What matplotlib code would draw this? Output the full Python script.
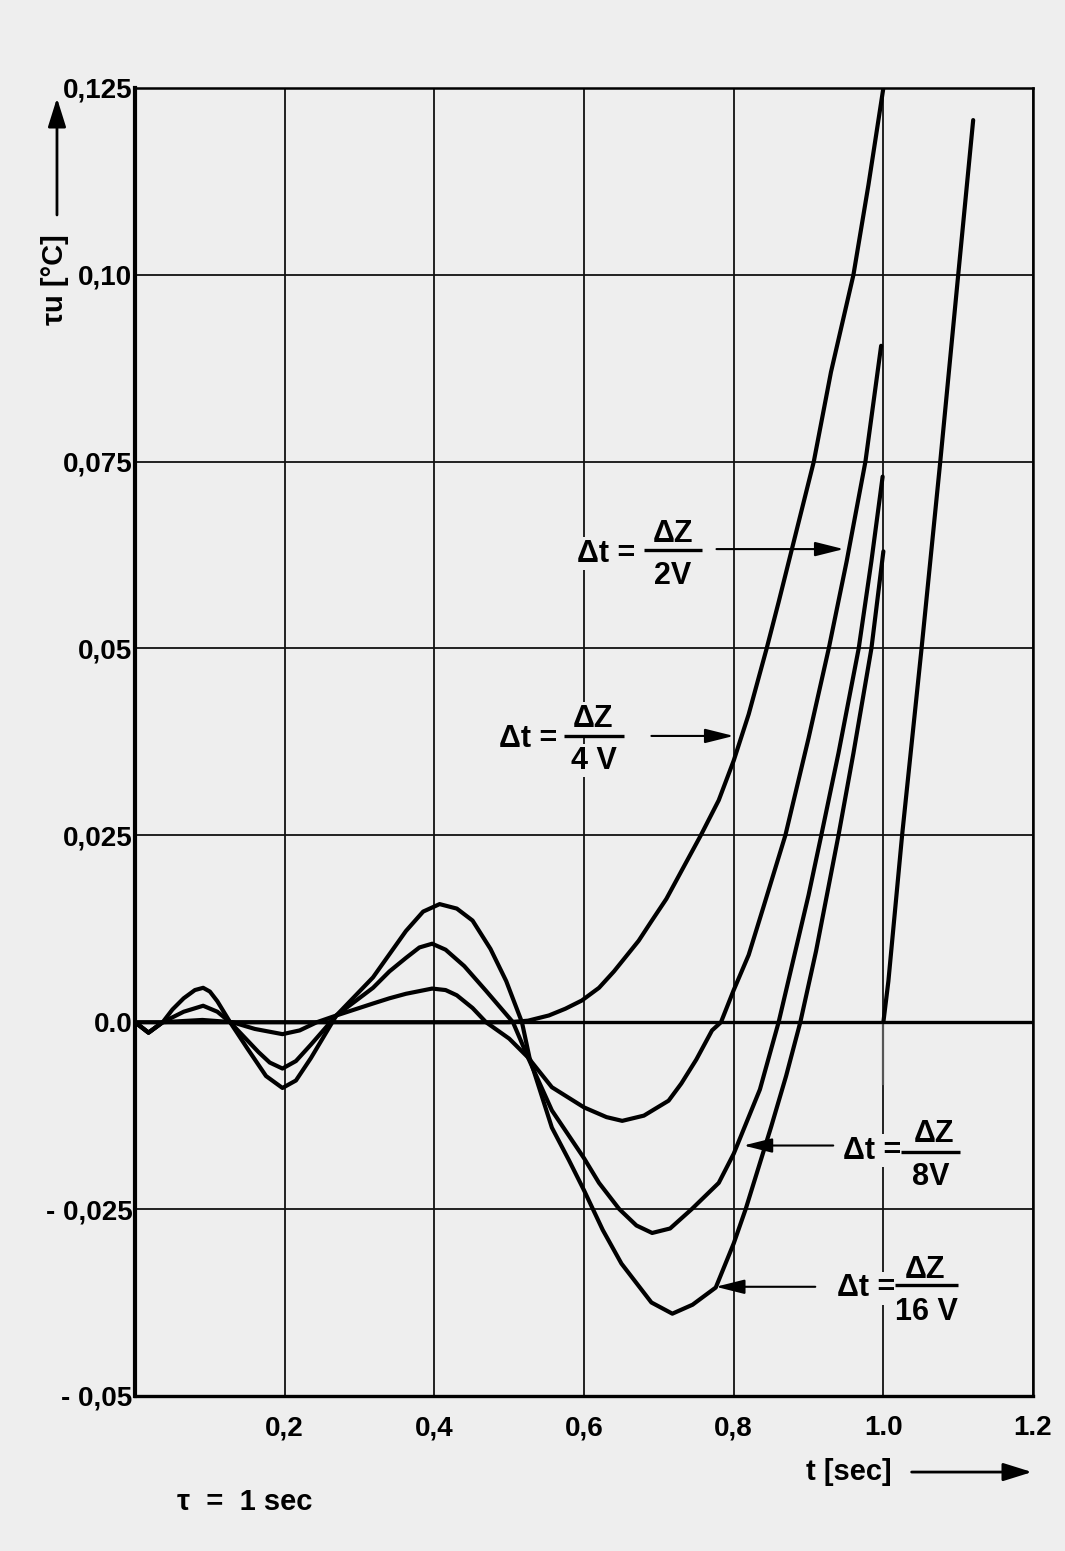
"""Tu-Verlauf fuer verschiedene Zeitschritte Δt = ΔZ / nV (Nachbau eines Scans)"""

import matplotlib

matplotlib.use("Agg")
import matplotlib.pyplot as plt
from matplotlib.patches import FancyArrowPatch

# region data
# curve 1: coarse step, stays on the zero line until ~0.5 s
t_c1 = [0.0, 0.50, 0.525, 0.553, 0.575, 0.597, 0.62, 0.64, 0.673, 0.69, 0.71, 0.73, 0.756, 0.78, 0.80,
        0.82, 0.844, 0.86, 0.877, 0.907, 0.93, 0.96, 0.98, 1.0]
u_c1 = [0.0, 0.0, 0.0002, 0.0009, 0.0018, 0.0029, 0.0046, 0.0068, 0.0109, 0.0135, 0.0165, 0.0202, 0.025,
        0.0297, 0.035, 0.0412, 0.05, 0.0562, 0.063, 0.075, 0.087, 0.10, 0.112, 0.125]

# curve 2: small oscillation, shallow minimum
t_c2 = [0.0, 0.018, 0.037, 0.09, 0.13, 0.16, 0.197, 0.22, 0.243, 0.269, 0.318, 0.34, 0.362, 0.397, 0.415,
        0.43, 0.451, 0.469, 0.50, 0.525, 0.557, 0.60, 0.63, 0.651, 0.68, 0.713, 0.73, 0.75, 0.771, 0.783,
        0.80, 0.82, 0.84, 0.869, 0.90, 0.927, 0.951, 0.976, 0.997]
u_c2 = [0.0, -0.0014, 0.0, 0.0003, 0.0, -0.0009, -0.0016, -0.0011, 0.0, 0.0009, 0.0025, 0.0032, 0.0038,
        0.0045, 0.0043, 0.0036, 0.0019, 0.0, -0.0022, -0.0047, -0.0087, -0.0114, -0.0127, -0.0132, -0.0125,
        -0.0105, -0.0082, -0.005, -0.0011, 0.0, 0.0043, 0.009, 0.0155, 0.025, 0.038, 0.05, 0.0617, 0.075,
        0.0905]

# curve 3: medium oscillation
t_c3 = [0.0, 0.018, 0.037, 0.065, 0.091, 0.11, 0.127, 0.165, 0.18, 0.197, 0.215, 0.235, 0.269, 0.318,
        0.34, 0.362, 0.38, 0.397, 0.415, 0.44, 0.469, 0.505, 0.525, 0.557, 0.60, 0.62, 0.647, 0.67, 0.691,
        0.715, 0.744, 0.78, 0.80, 0.835, 0.86, 0.88, 0.90, 0.917, 0.94, 0.967, 0.984, 0.999]
u_c3 = [0.0, -0.0014, 0.0, 0.0014, 0.0022, 0.0014, 0.0, -0.004, -0.0054, -0.0062, -0.0052, -0.003, 0.0009,
        0.0046, 0.0068, 0.0086, 0.0100, 0.0105, 0.0097, 0.0075, 0.0042, 0.0, -0.0047, -0.0118, -0.0182,
        -0.0215, -0.025, -0.0272, -0.0282, -0.0276, -0.025, -0.0215, -0.0176, -0.009, 0.0, 0.0085, 0.017,
        0.025, 0.036, 0.05, 0.0617, 0.073]

# curve 4: largest oscillation, deepest minimum
t_c4 = [0.0, 0.018, 0.037, 0.05, 0.065, 0.08, 0.091, 0.10, 0.11, 0.127, 0.15, 0.175, 0.197, 0.215, 0.235,
        0.269, 0.318, 0.362, 0.385, 0.407, 0.43, 0.451, 0.475, 0.496, 0.517, 0.527, 0.557, 0.58, 0.60, 0.625,
        0.65, 0.69, 0.718, 0.745, 0.776, 0.80, 0.816, 0.85, 0.87, 0.889, 0.91, 0.94, 0.96, 0.984, 1.0]
u_c4 = [0.0, -0.0014, 0.0, 0.0017, 0.0032, 0.0043, 0.0046, 0.0041, 0.0028, 0.0, -0.0035, -0.0072, -0.0088,
        -0.0078, -0.0048, 0.0009, 0.006, 0.0122, 0.0148, 0.0158, 0.0152, 0.0136, 0.0098, 0.0055, 0.0, -0.0047,
        -0.0141, -0.0185, -0.0225, -0.0278, -0.0323, -0.0375, -0.039, -0.0378, -0.0355, -0.0296, -0.025,
        -0.014, -0.0072, 0.0, 0.0095, 0.025, 0.036, 0.05, 0.063]

# steep line after t = 1 s
t_jump = [1.0, 1.0067, 1.025, 1.051, 1.076, 1.10, 1.12]
u_jump = [0.0, 0.0055, 0.025, 0.05, 0.075, 0.10, 0.1207]

# short drop line below zero at t = 1 s
t_drop = [1.0, 1.0]
u_drop = [0.0, -0.0083]

x_ticks = [0.2, 0.4, 0.6, 0.8, 1.0, 1.2]
x_ticklabels = ["0,2", "0,4", "0,6", "0,8", "1.0", "1.2"]
y_ticks = [0.125, 0.10, 0.075, 0.05, 0.025, 0.0, -0.025, -0.05]
y_ticklabels = ["0,125", "0,10", "0,075", "0,05", "0,025", "0.0", "- 0,025", "- 0,05"]

label_dens = ["2V", "4 V", "8V", "16 V"]
# endregion

BG = "#eeeeee"
FONT = ["Liberation Sans", "DejaVu Sans"]

plt.rcParams["font.family"] = FONT
plt.rcParams["font.weight"] = "bold"

fig = plt.figure(figsize=(10.65, 15.51), dpi=100, facecolor=BG)
ax = fig.add_axes([0.1268, 0.1000, 0.8432, 0.8433], facecolor=BG)

ax.set_xlim(0.0, 1.2)
ax.set_ylim(-0.05, 0.125)
ax.set_xticks(x_ticks)
ax.set_xticklabels(x_ticklabels)
ax.set_yticks(y_ticks)
ax.set_yticklabels(y_ticklabels)
ax.tick_params(axis="both", length=0, labelsize=20)
ax.tick_params(axis="x", pad=14)
ax.tick_params(axis="y", pad=2)

ax.grid(True, color="#111111", lw=1.3)
ax.set_axisbelow(True)
for side, width in (("left", 3.0), ("bottom", 2.4), ("top", 1.8), ("right", 1.8)):
    ax.spines[side].set_linewidth(width)
ax.axhline(0.0, color="black", lw=2.4, zorder=2)

curve_kw = dict(color="black", lw=3.0, solid_capstyle="round", solid_joinstyle="round", zorder=3)
ax.plot(t_c1, u_c1, **curve_kw)
ax.plot(t_c2, u_c2, **curve_kw)
ax.plot(t_c3, u_c3, **curve_kw)
ax.plot(t_c4, u_c4, **curve_kw)
ax.plot(t_jump, u_jump, **curve_kw)
ax.plot(t_drop, u_drop, color="#555555", lw=1.6, zorder=2)

# label layout: eq right edge, (y eq), numerator centre, (y num), bar x0/x1, (y bar), (y den), arrow start/end
label_layout = [
    (0.669, 0.0627, 0.719, 0.0653, 0.680, 0.757, 0.0632, 0.0597, (0.777, 0.0633), (0.947, 0.0633)),
    (0.564, 0.0379, 0.612, 0.0406, 0.573, 0.653, 0.0383, 0.0350, (0.690, 0.0383), (0.800, 0.0383)),
    (1.024, -0.0172, 1.067, -0.0149, 1.024, 1.103, -0.0174, -0.0207, (0.933, -0.0165), (0.813, -0.0165)),
    (1.016, -0.0356, 1.055, -0.0332, 1.016, 1.100, -0.0352, -0.0388, (0.909, -0.0354), (0.776, -0.0354)),
]
box = dict(facecolor=BG, edgecolor="none", pad=1.0)
for den, (xe, ye, xn, yn, b0, b1, yb, yd, a0, a1) in zip(label_dens, label_layout):
    ax.text(xe, ye, "Δt =", ha="right", va="center", fontsize=22, bbox=box, zorder=5)
    ax.text(xn, yn, "ΔZ", ha="center", va="center", fontsize=22, bbox=box, zorder=5)
    ax.text((b0 + b1) / 2, yd, den, ha="center", va="center", fontsize=22, bbox=box, zorder=5)
    ax.plot([b0, b1], [yb, yb], color="black", lw=2.4, zorder=6, solid_capstyle="butt")
    ax.annotate(
        "", xy=a1, xytext=a0,
        arrowprops=dict(arrowstyle="-|>,head_length=0.8,head_width=0.2", color="black",
                        lw=1.5, mutation_scale=22, shrinkA=0, shrinkB=0),
        zorder=6,
    )

# axis titles with arrows, as in the original drawing
arrow_kw = dict(arrowstyle="-|>,head_length=0.8,head_width=0.25", color="black",
                lw=2.0, mutation_scale=22, shrinkA=0, shrinkB=0)
fig.text(0.0516, 0.8195, "τu [°C]", rotation=90, ha="center", va="center", fontsize=21)
fig.add_artist(FancyArrowPatch((0.0535, 0.8614), (0.0535, 0.9368), transform=fig.transFigure, **arrow_kw))
fig.text(0.797, 0.0509, "t [sec]", ha="center", va="center", fontsize=21)
fig.add_artist(FancyArrowPatch((0.856, 0.0509), (0.969, 0.0509), transform=fig.transFigure, **arrow_kw))
fig.text(0.230, 0.0316, "τ  =  1 sec", ha="center", va="center", fontsize=21)

fig.savefig("out.png", dpi=100, facecolor=BG)
